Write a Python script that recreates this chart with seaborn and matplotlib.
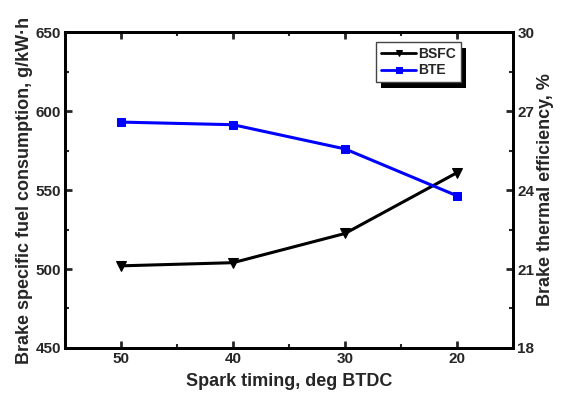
import matplotlib
matplotlib.use("Agg")
import matplotlib.pyplot as plt
import matplotlib.patches as mpatches
from matplotlib.transforms import IdentityTransform
import seaborn as sns
import pandas as pd
from matplotlib.ticker import MultipleLocator

# data
timing = ["50", "40", "30", "20"]
bsfc = [502, 504, 522.5, 561]        # g/kW.h
bte = [26.58, 26.48, 25.56, 23.78]   # %

sns.set_style("ticks")
plt.rcParams['font.family'] = ['Liberation Sans', 'DejaVu Sans']
plt.rcParams['font.weight'] = 'bold'

df = pd.DataFrame({'pos': range(len(timing)), 'BSFC': bsfc, 'BTE': bte})

fig = plt.figure(figsize=(5.73, 4.03), dpi=100)
ax = fig.add_axes([0.1134, 0.1365, 0.782, 0.784])
ax2 = ax.twinx()

sns.lineplot(data=df, x='pos', y='BSFC', ax=ax, color='black', marker='v',
             markersize=6.5, linewidth=2.2, markeredgecolor='black', label='BSFC', legend=False)
sns.lineplot(data=df, x='pos', y='BTE', ax=ax2, color='blue', marker='s',
             markersize=5.5, linewidth=2.2, markeredgecolor='blue', label='BTE', legend=False)

ax.set_xlim(-0.5, len(timing) - 0.5)
ax.set_ylim(450, 650)
ax2.set_ylim(18, 30)
ax.set_xticks(range(len(timing)))
ax.set_xticklabels(timing)
ax.xaxis.set_minor_locator(MultipleLocator(0.5))
ax.yaxis.set_major_locator(MultipleLocator(50))
ax.yaxis.set_minor_locator(MultipleLocator(25))
ax2.yaxis.set_major_locator(MultipleLocator(3))
ax2.yaxis.set_minor_locator(MultipleLocator(1.5))

for a in (ax, ax2):
    for s in a.spines.values():
        s.set_linewidth(2)
        s.set_color('black')
ax.tick_params(axis='both', which='major', direction='in', length=5, width=2,
               labelsize=11, top=True, pad=3)
ax.tick_params(axis='both', which='minor', direction='in', length=3, width=1.5, top=True)
ax.tick_params(axis='y', right=False, which='both')
ax2.tick_params(axis='y', which='major', direction='in', length=5, width=2, labelsize=11, pad=3)
ax2.tick_params(axis='y', which='minor', direction='in', length=3, width=1.5)
for lab in ax.get_xticklabels() + ax.get_yticklabels() + ax2.get_yticklabels():
    lab.set_fontweight('bold')

ax.set_xlabel('Spark timing, deg BTDC', fontsize=13, fontweight='bold', labelpad=5)
ax.set_ylabel('Brake specific fuel consumption, g/kW·h', fontsize=13, fontweight='bold', labelpad=2)
ax2.set_ylabel('Brake thermal efficiency, %', fontsize=13, fontweight='bold', labelpad=2)

h1, l1 = ax.get_legend_handles_labels()
h2, l2 = ax2.get_legend_handles_labels()
leg = ax2.legend(h1 + h2, l1 + l2, loc='upper left', bbox_to_anchor=(0.695, 0.967),
                 frameon=True, fancybox=False, framealpha=1,
                 prop={'weight': 'bold', 'size': 10}, handlelength=2.5,
                 handletextpad=0.15, borderpad=0.35, labelspacing=0.15, borderaxespad=0)
leg.get_frame().set_edgecolor('#444444')
leg.get_frame().set_linewidth(1)
leg.set_zorder(6)
for h in leg.legend_handles:
    h.set_markersize(4.5)
    h.set_linewidth(2)

# solid black drop shadow, offset down-right like the original
fig.canvas.draw()
bb = leg.get_window_extent()
shadow = mpatches.Rectangle((bb.x0 + 5, bb.y0 - 6), bb.width, bb.height,
                            transform=IdentityTransform(), facecolor='black',
                            edgecolor='none', zorder=5.5, clip_on=False)
ax2.add_artist(shadow)

fig.savefig('out.png', dpi=100)
